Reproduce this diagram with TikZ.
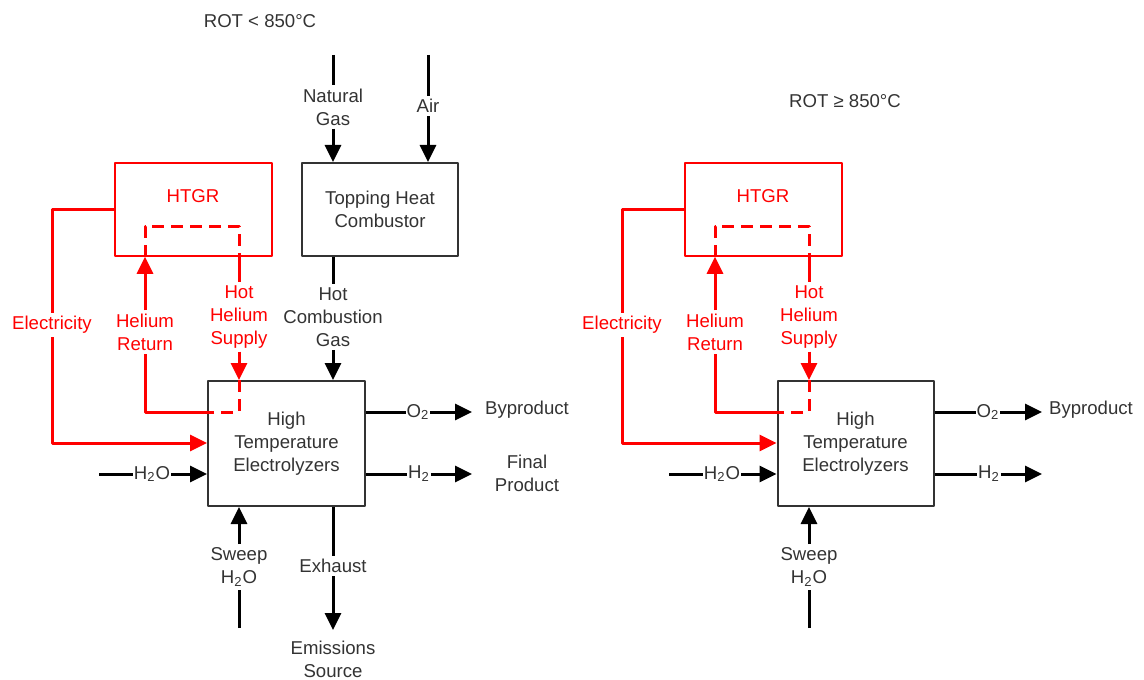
\documentclass[tikz,border=0pt]{standalone}
\usepackage{fontspec}
\setmainfont{Liberation Sans}
\usetikzlibrary{arrows.meta}
\begin{document}
\begin{tikzpicture}[x=0.5pt,y=-0.5pt,
  line join=round,
  txt/.style={font=\fontsize{9.3}{11.5}\selectfont, text=black!80, align=center, inner sep=1.5pt},
  rtxt/.style={txt, text=red},
  sub/.style={txt, inner sep=0.3pt},
  box/.style={txt, draw=black!80, line width=1pt, inner sep=0pt},
  rbox/.style={draw=red, line width=0.75pt, inner sep=0pt},
  ln/.style={line width=1.5pt, draw=black},
  rln/.style={line width=1.5pt, draw=red},
  arr/.style={-{Triangle[length=8.5pt,width=8pt]}},
  dsh/.style={dash pattern=on 6pt off 3.5pt}]
\useasboundingbox (0,0) rectangle (1144,679);

% ================= LEFT: ROT < 850 C =================
\node[txt] (title1) at (260,21) {ROT < 850°C};
\node[box, minimum width=78.5pt, minimum height=62.5pt] (hte) at (286.5,443.5) {High\\Temperature\\Electrolyzers};
\node[rbox, minimum width=78.5pt, minimum height=46.5pt] (htgr) at (193.5,209.5) {};
\node[rtxt] (htgrl) at (193,196) {HTGR};
\node[box, minimum width=78pt, minimum height=46.5pt] (thc) at (380,209.5) {Topping Heat\\Combustor};

\node[rtxt] (elec) at (52,325) {Electricity};
\node[rtxt] (hret) at (145,332) {Helium\\Return};
\node[rtxt] (hsup) at (239,317) {Hot\\Helium\\Supply};
\node[txt] (hcg) at (333,317) {Hot\\Combustion\\Gas};
\node[txt] (ng) at (333,107) {Natural\\Gas};
\node[txt] (air) at (428,106) {Air};
\node[sub] (o2) at (418,412) {O\textsubscript{2}};
\node[sub] (h2) at (419,474) {H\textsubscript{2}};
\node[sub] (h2oin) at (152,474) {H\textsubscript{2}O};
\node[txt] (byp) at (527,410) {Byproduct};
\node[txt] (fp) at (527,473) {Final\\Product};
\node[txt] (sweep) at (239,567) {Sweep\\H\textsubscript{2}O};
\node[txt] (exh) at (333,566) {Exhaust};
\node[txt] (emis) at (333,659) {Emissions\\Source};

\coordinate (ng0) at (333,55);
\coordinate (air0) at (428,55);
\coordinate (e1) at (52,210);
\coordinate (e2) at (52,443);
\coordinate (d1) at (145,226);
\coordinate (d2) at (239,226);
\coordinate (d3) at (239,412);
\coordinate (d4) at (145,412);
\coordinate (h2o0) at (99,474);
\coordinate (o2e) at (472,412);
\coordinate (h2e) at (472,474);
\coordinate (sw0) at (239,628);
\coordinate (ex1) at (333,630);

\draw[ln] (ng0) -- (ng);
\draw[ln,arr] (ng) -- (ng |- thc.north);
\draw[ln] (air0) -- (air);
\draw[ln,arr] (air) -- (air |- thc.north);
\draw[ln] (hcg |- thc.south) -- (hcg);
\draw[ln,arr] (hcg) -- (hcg |- hte.north);

\draw[rln] (e1 -| htgr.west) -- (e1) -- (elec);
\draw[rln,arr] (elec) -- (e2) -- (e2 -| hte.west);
\draw[rln,arr] (hret) -- (hret |- htgr.south);
\draw[rln,dsh] (hret |- htgr.south) -- (d1) -- (d2) -- (d2 |- htgr.south);
\draw[rln] (d2 |- htgr.south) -- (hsup);
\draw[rln,arr] (hsup) -- (hsup |- hte.north);
\draw[rln,dsh] (hsup |- hte.north) -- (d3) -- (d3 -| hte.west);
\draw[rln] (d3 -| hte.west) -- (d4) -- (hret);

\draw[ln] (o2 -| hte.east) -- (o2);
\draw[ln,arr] (o2) -- (o2e);
\draw[ln] (h2 -| hte.east) -- (h2);
\draw[ln,arr] (h2) -- (h2e);
\draw[ln] (h2o0) -- (h2oin);
\draw[ln,arr] (h2oin) -- (h2oin -| hte.west);
\draw[ln] (sw0) -- (sweep);
\draw[ln,arr] (sweep) -- (sweep |- hte.south);
\draw[ln] (exh |- hte.south) -- (exh);
\draw[ln,arr] (exh) -- (ex1);

% ================= RIGHT: ROT >= 850 C =================
\node[txt] (title2) at (845,101) {ROT ≥ 850°C};
\node[box, minimum width=78pt, minimum height=62.5pt] (rhte) at (855.5,443.5) {High\\Temperature\\Electrolyzers};
\node[rbox, minimum width=78.5pt, minimum height=46.5pt] (rhtgr) at (763.5,209.5) {};
\node[rtxt] (rhtgrl) at (763,196) {HTGR};

\node[rtxt] (relec) at (622,325) {Electricity};
\node[rtxt] (rhret) at (715,332) {Helium\\Return};
\node[rtxt] (rhsup) at (809,317) {Hot\\Helium\\Supply};
\node[sub] (ro2) at (988,412) {O\textsubscript{2}};
\node[sub] (rh2) at (989,474) {H\textsubscript{2}};
\node[sub] (rh2oin) at (722,474) {H\textsubscript{2}O};
\node[txt] (rbyp) at (1091,410) {Byproduct};
\node[txt] (rsweep) at (809,567) {Sweep\\H\textsubscript{2}O};

\coordinate (re1) at (622,210);
\coordinate (re2) at (622,443);
\coordinate (rd1) at (715,226);
\coordinate (rd2) at (809,226);
\coordinate (rd3) at (809,412);
\coordinate (rd4) at (715,412);
\coordinate (rh2o0) at (669,474);
\coordinate (ro2e) at (1042,412);
\coordinate (rh2e) at (1042,474);
\coordinate (rsw0) at (809,628);

\draw[rln] (re1 -| rhtgr.west) -- (re1) -- (relec);
\draw[rln,arr] (relec) -- (re2) -- (re2 -| rhte.west);
\draw[rln,arr] (rhret) -- (rhret |- rhtgr.south);
\draw[rln,dsh] (rhret |- rhtgr.south) -- (rd1) -- (rd2) -- (rd2 |- rhtgr.south);
\draw[rln] (rd2 |- rhtgr.south) -- (rhsup);
\draw[rln,arr] (rhsup) -- (rhsup |- rhte.north);
\draw[rln,dsh] (rhsup |- rhte.north) -- (rd3) -- (rd3 -| rhte.west);
\draw[rln] (rd3 -| rhte.west) -- (rd4) -- (rhret);

\draw[ln] (ro2 -| rhte.east) -- (ro2);
\draw[ln,arr] (ro2) -- (ro2e);
\draw[ln] (rh2 -| rhte.east) -- (rh2);
\draw[ln,arr] (rh2) -- (rh2e);
\draw[ln] (rh2o0) -- (rh2oin);
\draw[ln,arr] (rh2oin) -- (rh2oin -| rhte.west);
\draw[ln] (rsw0) -- (rsweep);
\draw[ln,arr] (rsweep) -- (rsweep |- rhte.south);
\end{tikzpicture}
\end{document}
